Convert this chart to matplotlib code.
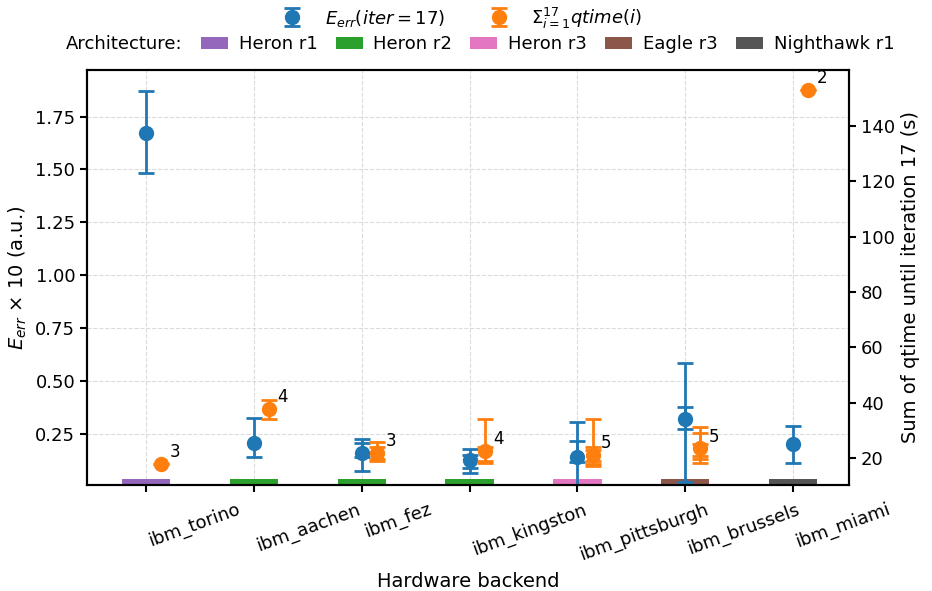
"""Per-backend E_err at iteration 17 with summed qtime on a twin axis."""

import matplotlib.pyplot as plt
from matplotlib.patches import Patch

backends = ["ibm_torino", "ibm_aachen", "ibm_fez", "ibm_kingston",
            "ibm_pittsburgh", "ibm_brussels", "ibm_miami"]
arch = ["Heron r1", "Heron r2", "Heron r2", "Heron r2",
        "Heron r3", "Eagle r3", "Nighthawk r1"]
arch_names = ["Heron r1", "Heron r2", "Heron r3", "Eagle r3", "Nighthawk r1"]
arch_colors = ["#9467bd", "#2ca02c", "#e377c2", "#8c564b", "#555555"]

# E_err x 10 at iteration 17 (mean, then (low, high) spans of each errorbar)
err_mean = [1.674, 0.206, 0.162, 0.128, 0.143, 0.320, 0.202]
err_spans = [
    [(1.482, 1.873)],
    [(0.142, 0.328)],
    [(0.077, 0.225), (0.140, 0.206)],
    [(0.065, 0.178), (0.090, 0.150)],
    [(-0.05, 0.307), (0.120, 0.219)],
    [(0.025, 0.585), (0.273, 0.377)],
    [(0.112, 0.290)],
]

# summed qtime until iteration 17 (s)
q_mean = [17.8, 37.6, 21.9, 22.5, 21.1, 23.4, 153.1]
q_spans = [
    [(17.8, 17.8)],
    [(34.0, 40.9)],
    [(19.0, 25.9), (19.6, 24.0)],
    [(18.1, 34.0), (18.9, 24.0)],
    [(17.0, 34.0), (17.8, 24.0), (18.7, 23.0)],
    [(18.3, 31.0), (19.5, 28.9), (20.7, 25.0)],
    [(153.1, 153.1)],
]
n_runs = [3, 4, 3, 4, 5, 5, 2]

BLUE = "#1f77b4"
ORANGE = "#ff7f0e"
Q_SHIFT = 0.14
BAR_H = 0.04

plt.rcParams.update({"font.family": "DejaVu Sans", "font.size": 13,
                     "axes.linewidth": 1.5})

fig = plt.figure(figsize=(9.32, 5.91), dpi=100)
ax = fig.add_axes([0.0933, 0.1794, 0.8177, 0.7022])
ax2 = ax.twinx()

xs = list(range(len(backends)))
color_of = dict(zip(arch_names, arch_colors))
ax.bar(xs, [BAR_H] * len(xs), width=0.45, bottom=0,
       color=[color_of[a] for a in arch], zorder=2)

eb_style = dict(capsize=6, elinewidth=2, capthick=2, markersize=10)
h_err = h_q = None
for i, x in enumerate(xs):
    m = err_mean[i]
    for k, (lo, hi) in enumerate(err_spans[i]):
        c = ax.errorbar(x, m, yerr=[[m - lo], [hi - m]],
                        fmt="o" if k == 0 else "none", color=BLUE,
                        zorder=3, **eb_style)
        if h_err is None:
            h_err = c
    q = q_mean[i]
    for k, (lo, hi) in enumerate(q_spans[i]):
        c = ax2.errorbar(x + Q_SHIFT, q, yerr=[[q - lo], [hi - q]],
                         fmt="o" if k == 0 else "none", color=ORANGE,
                         zorder=3, **eb_style)
        if h_q is None:
            h_q = c
    ax2.annotate(str(n_runs[i]), (x + Q_SHIFT, q), xytext=(6, 2),
                 textcoords="offset points", ha="left", va="bottom",
                 fontsize=12)

ax.set_xlim(-0.55, 6.52)
ax.set_ylim(0.01, 1.97)
ax.set_yticks([0.25, 0.50, 0.75, 1.00, 1.25, 1.50, 1.75])
ax2.set_ylim(10.2, 160.2)
ax2.set_yticks([20, 40, 60, 80, 100, 120, 140])

ax.set_xticks(xs)
ax.set_xticklabels(backends, rotation=20, ha="left")
ax.tick_params(width=1.5, length=5, labelsize=13)
ax.tick_params(axis="x", pad=6)
ax2.tick_params(width=1.5, length=5, labelsize=13)
ax.grid(True, linestyle="--", color="#cccccc", alpha=0.7, linewidth=0.8)
ax.set_axisbelow(True)

ax.set_xlabel("Hardware backend", fontsize=14, labelpad=6)
ax.set_ylabel(r"$E_{err}$ × 10 (a.u.)", fontsize=14)
ax2.set_ylabel("Sum of qtime until iteration 17 (s)", fontsize=14)

fig.legend([h_err, h_q],
           [r"$E_{err}(iter=17)$", r"$\Sigma_{i=1}^{17}qtime(i)$"],
           loc="upper center", bbox_to_anchor=(0.4915, 1.018), ncol=2,
           frameon=False, fontsize=13)
arch_handles = [Patch(facecolor="none", edgecolor="none")]
arch_handles += [Patch(facecolor=c) for c in arch_colors]
fig.legend(arch_handles, ["Architecture:"] + arch_names,
           loc="upper center", bbox_to_anchor=(0.495, 0.968), ncol=6,
           frameon=False, fontsize=13, handlelength=1.5,
           columnspacing=1.0, handletextpad=0.6)

fig.savefig("out.png", dpi=100)
